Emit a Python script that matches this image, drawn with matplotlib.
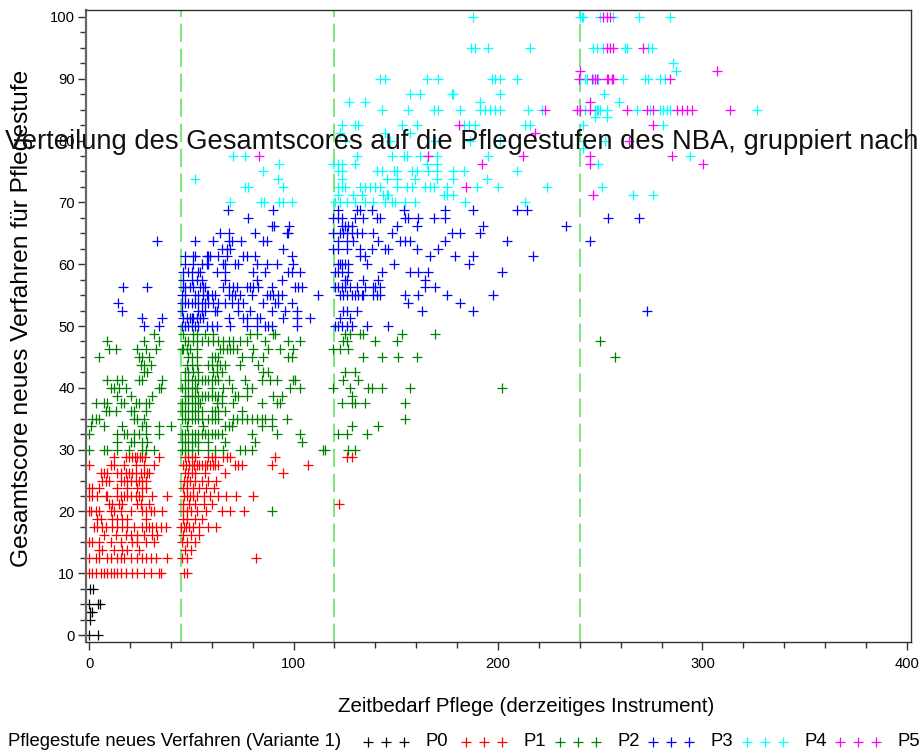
import matplotlib
matplotlib.use("Agg")
import matplotlib.pyplot as plt
from matplotlib.lines import Line2D
from matplotlib.ticker import MultipleLocator
from matplotlib import font_manager

plt.rcParams['font.family'] = ['Liberation Sans', 'DejaVu Sans']
_names = {f.name for f in font_manager.fontManager.ttflist}
if 'Liberation Sans Narrow' in _names:
    NARROW = ['Liberation Sans Narrow', 'Liberation Sans', 'DejaVu Sans']
    NSCALE = 1.0
else:
    NARROW = ['Liberation Sans', 'DejaVu Sans']
    NSCALE = 0.82

# ---------------- data: (score level, [Zeitbedarf values]) ----------------
P0_rows = [
    (7.5, [0.5, 2.0]),
    (5.0, [0.0, 4.5, 5.4]),
    (3.75, [0.5, 1.5]),
    (2.5, [0.3]),
    (0.0, [0.0, 4.2]),
]

P1_rows = [
    (28.75, [12.2, 17.9, 19.6, 21.2, 22.3, 23.6, 24.8, 26.1, 27.4, 34.2,
             47.0, 48.6, 50.3, 51.9, 58.3, 60.0, 61.6, 65.6, 67.3, 68.9, 90.9, 126.0, 128.4]),
    (27.5, [0.0, 10.6, 12.2, 17.1, 22.8, 26.9, 31.8,
            46.1, 47.5, 48.8, 50.1, 51.4, 52.7, 54.0, 55.3, 56.6, 57.9, 59.2, 60.5, 61.8, 63.1,
            71.4, 73.0, 74.6, 89.3, 107.2]),
    (26.25, [5.7, 7.3, 9.0, 13.9, 15.5, 17.9, 19.6, 21.2, 22.8, 25.3, 26.9, 28.5, 29.3,
             46.9, 48.6, 50.2, 51.8, 56.7, 66.5, 95.0]),
    (25.0, [6.5, 8.1, 9.8, 15.5, 17.1, 18.7, 20.4, 22.8, 24.4, 26.1, 27.7,
            46.5, 47.8, 49.4, 52.0, 55.0, 58.0, 62.0]),
    (23.75, [0.0, 1.6, 4.9, 13.9, 18.7, 23.6, 26.1, 27.7, 46.0, 48.0, 51.0, 54.0, 57.0, 61.0]),
    (22.5, [0.0, 1.6, 4.1, 8.1, 9.0, 13.9, 15.5, 17.1, 18.7, 20.4, 22.8, 24.4, 26.1, 30.9, 38.3,
            46.5, 48.0, 49.5, 51.0, 53.0, 56.0, 59.0, 63.0, 67.0, 72.0, 80.0]),
    (21.25, [9.8, 11.4, 14.7, 16.3, 23.6, 25.3, 29.3, 46.0, 49.0, 52.0, 56.0, 60.0, 122.0]),
    (20.0, [0.0, 0.8, 3.3, 4.9, 10.6, 12.2, 15.5, 20.4, 26.1, 27.7, 30.1, 31.8, 35.9,
            46.0, 48.0, 49.7, 53.0, 57.0, 65.0, 69.0, 76.0]),
    (18.75, [4.1, 5.7, 11.4, 13.9, 16.3, 18.7, 27.7, 46.0, 48.0, 52.0, 55.0]),
    (17.5, [2.4, 4.1, 6.5, 8.1, 11.4, 13.9, 16.3, 18.7, 22.0, 26.1, 27.7, 29.3, 30.9, 32.6, 35.0,
            37.5, 44.8, 46.5, 47.5, 49.0, 51.0, 54.0, 58.0, 62.0]),
    (16.25, [7.3, 13.0, 17.9, 20.4, 23.6, 26.9, 30.9, 33.4, 46.0, 50.0, 54.0]),
    (15.0, [0.0, 1.6, 4.9, 10.6, 15.5, 21.2, 23.6, 27.7, 31.8, 45.6, 48.0, 52.0]),
    (13.75, [4.9, 6.5, 12.2, 16.3, 18.7, 24.4, 47.0, 50.0]),
    (12.5, [0.0, 3.3, 4.9, 9.0, 10.6, 13.9, 15.5, 17.1, 20.4, 23.6, 26.1, 27.7, 30.1, 32.6, 38.3,
            45.6, 48.0, 81.5]),
    (10.0, [0.0, 1.6, 3.3, 5.7, 7.3, 9.0, 10.6, 12.2, 13.9, 15.5, 17.9, 21.2, 23.6, 26.9, 30.1,
            34.2, 35.0, 46.5, 48.1]),
]

P2_rows = [
    (48.75, [31.8, 46.1, 51.0, 52.6, 56.7, 60.8, 78.7, 82.0, 90.1, 90.9,
             125.2, 127.6, 132.5, 134.2, 152.9, 169.3]),
    (47.5, [9.0, 26.9, 34.2, 46.9, 48.6, 51.0, 52.6, 55.1, 58.4, 60.8, 63.2, 65.7, 68.2, 70.6,
            73.8, 77.1, 86.1, 97.5, 103.2, 124.4, 126.0, 139.9, 150.5, 249.9]),
    (46.25, [9.8, 13.0, 23.6, 27.7, 32.6, 45.3, 46.1, 47.8, 49.4, 52.6, 64.1, 65.7, 67.4, 69.0,
             70.6, 72.2, 80.4, 87.7, 93.4, 99.9, 119.5, 122.7, 126.8]),
    (45.0, [4.9, 24.4, 26.1, 29.3, 48.6, 50.2, 52.6, 60.0, 61.6, 63.2, 74.6, 79.6, 85.2, 97.5,
            99.1, 134.2, 143.1, 151.3, 160.3, 257.2]),
    (43.75, [25.3, 26.9, 30.1, 47.8, 50.2, 52.6, 58.4, 60.0, 62.4, 64.1, 66.5, 73.8, 82.8]),
    (42.5, [26.9, 28.5, 46.9, 48.6, 51.0, 53.5, 60.8, 62.4, 64.9, 85.2, 87.7, 125.2, 130.1]),
    (41.25, [9.0, 13.9, 16.3, 24.4, 26.1, 35.9, 46.9, 48.6, 50.2, 51.8, 53.5, 55.1, 56.7, 58.4,
             60.0, 61.6, 63.2, 68.2, 76.3, 84.4, 88.5, 91.8, 99.9, 100.7, 124.4, 131.7]),
    (40.0, [10.6, 12.2, 14.7, 17.9, 34.2, 35.0, 45.3, 46.9, 48.6, 50.2, 51.8, 52.6, 60.0, 65.7,
            69.8, 77.1, 79.6, 98.3, 103.2, 119.5, 127.6, 136.6, 138.3, 143.1, 157.0, 201.8]),
    (38.75, [13.9, 20.4, 30.9, 46.9, 48.6, 50.2, 51.8, 53.5, 55.1, 56.7, 58.4, 60.0, 61.6, 63.2,
             64.9, 71.4, 73.0, 77.1, 90.1, 94.2, 128.4]),
    (37.5, [3.3, 7.3, 9.0, 15.5, 17.1, 22.8, 24.4, 27.7, 29.3, 45.3, 46.9, 48.6, 50.2, 51.8, 53.5,
            54.3, 62.4, 64.9, 70.6, 84.4, 91.8, 93.4, 123.6, 128.4, 130.1, 135.0, 154.6]),
    (36.25, [8.1, 9.8, 13.0, 20.4, 22.0, 27.7, 45.3, 46.9, 48.6, 50.2, 51.8, 53.5, 55.1, 60.0,
             61.6, 63.2, 66.5, 74.6]),
    (35.0, [1.6, 3.3, 4.9, 22.0, 23.6, 26.9, 45.3, 46.9, 48.6, 50.2, 51.8, 53.5, 55.1, 58.4,
            60.0, 61.6, 63.2, 70.6, 72.2, 74.6, 77.1, 79.6, 82.0, 84.4, 86.1, 89.3, 96.7, 154.6]),
    (33.75, [0.8, 7.3, 16.3, 26.1, 27.7, 34.2, 39.9, 47.8, 55.9, 66.5, 68.2, 69.8, 84.4, 89.3,
             128.4, 141.5]),
    (32.5, [0.0, 13.9, 17.1, 18.7, 22.0, 24.4, 27.7, 34.2, 45.3, 46.9, 48.6, 50.2, 51.8, 53.5,
            55.1, 56.7, 58.4, 60.0, 61.6, 63.2, 64.9, 79.6, 91.8, 103.2, 121.9, 126.0, 135.8]),
    (31.25, [13.9, 20.4, 22.0, 26.1, 28.5, 45.3, 46.9, 48.6, 50.2, 51.8, 53.5, 58.4, 66.5, 81.2,
             104.0]),
    (30.0, [0.0, 7.3, 9.0, 13.9, 19.6, 26.1, 27.7, 31.8, 45.3, 46.9, 48.6, 50.2, 53.5, 58.4,
            61.6, 65.7, 73.8, 76.3, 79.6, 114.6, 115.4, 126.8, 130.1]),
    (20.0, [89.5]),
]

P3_rows = [
    (68.75, [67.8, 89.8, 121.9, 130.9, 132.5, 138.3, 153.8, 174.2, 188.0, 209.2, 214.1]),
    (67.5, [77.9, 119.5, 121.9, 123.6, 130.1, 134.2, 140.7, 142.3, 154.6, 156.2, 161.1, 168.5,
            174.2, 253.7, 269.0]),
    (66.25, [89.3, 90.6, 97.9, 123.6, 125.2, 126.8, 128.4, 150.5, 160.3, 192.9, 233.3]),
    (65.0, [64.1, 68.2, 81.2, 96.7, 97.5, 119.5, 122.7, 124.4, 126.0, 128.4, 130.9, 133.3,
            139.1, 148.0, 177.4, 181.5, 191.3]),
    (63.75, [33.0, 51.8, 60.4, 68.2, 69.8, 74.3, 85.2, 86.9, 121.9, 126.0, 129.3, 141.5, 152.1,
             154.6, 157.0, 174.2, 204.3, 244.9]),
    (62.5, [64.9, 67.4, 69.0, 95.0, 119.5, 121.9, 126.0, 132.5, 138.3, 144.8, 146.4, 160.3,
            170.9]),
    (61.25, [46.9, 51.0, 51.8, 57.6, 58.4, 59.2, 62.9, 67.4, 75.5, 77.1, 81.2, 99.1, 132.5,
             135.0, 166.8, 179.0, 188.0, 217.3]),
    (60.0, [46.9, 51.0, 55.1, 57.6, 58.4, 65.7, 66.5, 71.4, 73.0, 82.0, 86.9, 91.8, 99.9,
            121.9, 122.7, 123.6, 125.2, 126.8, 135.8, 148.9, 185.6]),
    (58.75, [46.1, 48.6, 50.2, 53.5, 54.3, 62.4, 66.5, 80.4, 86.1, 97.5, 99.1, 103.2, 120.3,
             121.9, 123.6, 126.8, 143.1, 157.0, 161.1, 166.0, 201.8]),
    (57.5, [46.1, 50.2, 52.6, 55.1, 66.5, 82.0, 94.2, 125.2, 126.0, 134.2, 141.5, 164.3]),
    (56.25, [16.6, 28.4, 46.1, 46.9, 49.4, 51.0, 54.3, 55.9, 56.7, 65.7, 68.2, 70.6, 72.2, 77.1,
             78.7, 80.4, 82.8, 89.3, 100.7, 102.4, 104.0, 120.3, 121.9, 123.6, 125.2, 127.6,
             130.9, 135.0, 139.1, 139.9, 142.3, 164.3, 169.3]),
    (55.0, [45.3, 46.9, 51.8, 53.5, 55.9, 57.6, 58.4, 60.0, 61.6, 68.2, 69.8, 71.4, 73.8, 79.6,
            86.9, 88.5, 90.1, 92.6, 94.2, 112.1, 122.7, 124.4, 126.0, 128.4, 130.1, 131.7,
            133.3, 134.2, 139.1, 140.7, 142.3, 154.6, 161.1, 175.0, 197.8]),
    (53.75, [14.0, 45.3, 46.9, 48.6, 50.2, 51.8, 53.5, 55.1, 56.7, 58.4, 60.8, 63.2, 66.5, 69.8,
             73.0, 75.5, 85.2, 90.9, 92.6, 99.1, 156.2, 181.5]),
    (52.5, [16.3, 45.3, 53.5, 55.1, 56.7, 61.6, 62.4, 73.0, 78.7, 89.3, 95.8, 101.5, 124.4,
            126.0, 130.9, 162.7, 188.0, 273.1]),
    (51.25, [26.1, 35.9, 46.1, 47.8, 49.4, 50.2, 51.0, 52.6, 54.3, 55.9, 68.2, 75.5, 77.1, 82.0,
             83.6, 95.0, 101.5, 108.1, 122.7, 127.6]),
    (50.0, [26.9, 34.2, 45.3, 46.9, 48.6, 50.2, 51.8, 53.5, 57.6, 60.0, 62.4, 69.0, 77.1, 82.0,
            86.1, 87.7, 89.3, 101.5, 120.3, 121.9, 123.6, 126.0, 128.4, 135.8, 146.4]),
]

P4_rows = [
    (100.0, [187.7, 240.2, 241.0, 241.8, 249.9, 256.4, 268.9, 284.1]),
    (95.0, [187.0, 189.0, 195.0, 215.6, 246.6, 248.3, 251.5, 262.1, 262.9, 273.5, 275.1]),
    (92.5, [285.4]),
    (91.25, [287.0]),
    (90.0, [142.3, 144.8, 165.2, 170.9, 196.9, 198.6, 201.0, 209.2, 240.2, 242.6, 243.4, 246.6,
            249.1, 261.3, 272.0, 273.5, 279.2, 281.7]),
    (87.5, [157.0, 161.9, 177.4, 178.2, 201.0, 251.9]),
    (86.25, [127.3, 135.0, 191.3, 259.2]),
    (85.0, [143.1, 156.2, 168.5, 170.9, 181.5, 191.3, 193.7, 196.1, 198.6, 201.0, 214.9, 221.4,
            242.6, 247.4, 248.3, 249.1, 249.9, 253.2, 267.8, 274.3, 279.2, 280.9, 282.5, 284.1,
            326.5]),
    (83.75, [247.4, 253.2]),
    (82.5, [123.6, 130.1, 131.7, 152.9, 160.3, 183.2, 185.6, 188.8, 213.2, 215.7, 241.8, 280.9]),
    (81.25, [122.7, 144.8, 157.0]),
    (80.0, [125.2, 147.2, 169.3, 186.4, 201.0, 242.6, 252.3]),
    (78.75, [241.8]),
    (77.5, [70.6, 76.3, 130.9, 148.0, 153.8, 155.4, 161.9, 166.0, 170.1, 195.3, 293.9]),
    (76.25, [92.9, 119.5, 121.9, 123.6, 130.1, 165.2, 170.1, 249.1]),
    (75.0, [85.2, 121.9, 123.6, 140.7, 143.1, 148.9, 150.5, 157.8, 160.3, 166.0, 170.1, 178.2,
            183.2, 209.2]),
    (73.75, [51.8, 92.3, 123.6, 145.6, 150.5, 159.4, 170.1, 178.2, 194.5]),
    (72.5, [76.3, 77.9, 95.0, 121.9, 123.6, 125.2, 132.5, 135.0, 137.5, 139.9, 142.3, 150.5,
            155.4, 157.8, 164.3, 166.8, 168.5, 175.0, 189.6, 200.2, 223.9, 250.7]),
    (71.25, [121.9, 129.3, 133.3, 144.0, 145.6, 146.4, 173.4, 175.0, 178.2, 266.2, 276.0]),
    (70.0, [69.0, 84.2, 85.8, 92.9, 95.0, 99.1, 120.3, 122.7, 126.0, 130.1, 135.0, 139.1, 144.8,
            148.0, 149.7, 154.6, 159.4, 184.0, 213.2]),
]

P5_rows = [
    (100.0, [251.5, 253.2, 254.8]),
    (95.0, [253.2, 254.8, 256.4, 271.1]),
    (91.25, [240.2, 306.9]),
    (90.0, [239.4, 245.8, 247.4, 248.3, 253.2, 254.0, 255.6, 256.4, 284.1]),
    (86.25, [245.0]),
    (85.0, [223.0, 238.5, 240.2, 245.0, 262.9, 272.7, 276.0, 287.4, 289.8, 292.3, 294.7, 313.5]),
    (82.5, [181.1, 276.0]),
    (81.25, [218.1]),
    (80.0, [264.2]),
    (77.5, [83.0, 166.0, 212.1, 245.0, 284.9]),
    (76.25, [192.0, 245.0, 300.4]),
    (72.5, [184.2]),
    (71.25, [246.6]),
]

groups = ["P0", "P1", "P2", "P3", "P4", "P5"]
group_rows = [P0_rows, P1_rows, P2_rows, P3_rows, P4_rows, P5_rows]
colors = ["#000000", "#ff0000", "#008000", "#0000ff", "#00ffff", "#ff00ff"]
ref_lines = [45, 120, 240]

title_text = "Verteilung des Gesamtscores auf die Pflegestufen des NBA, gruppiert nach"
xlabel_text = "Zeitbedarf Pflege (derzeitiges Instrument)"
ylabel_text = "Gesamtscore neues Verfahren für Pflegestufe"
legend_title = "Pflegestufe neues Verfahren (Variante 1)"

# ---------------- figure ----------------
W, H = 922, 756
fig = plt.figure(figsize=(W / 100, H / 100), dpi=100)
ax = fig.add_axes([86 / W, 1 - 642 / H, (911 - 86) / W, (642 - 10) / H])

for rows, col in zip(group_rows, colors):
    xs, ys = [], []
    for y, xl in rows:
        for x in xl:
            xs.append(x)
            ys.append(y)
    ax.plot(xs, ys, ls="none", marker="+", ms=6.5, mew=0.9, color=col)

for xv in ref_lines:
    ax.axvline(xv, color="#66e066", lw=1.2, dashes=(11, 4), zorder=0)

ax.set_xlim(-1.5, 402)
ax.set_ylim(-1.13, 101.13)
ax.xaxis.set_major_locator(MultipleLocator(100))
ax.xaxis.set_minor_locator(MultipleLocator(20))
ax.yaxis.set_major_locator(MultipleLocator(10))
ax.yaxis.set_minor_locator(MultipleLocator(2.5))
ax.tick_params(axis="both", which="major", length=6, width=1, color="#333333",
               labelsize=13 * NSCALE, pad=2)
ax.tick_params(axis="x", which="major", pad=5)
ax.tick_params(axis="both", which="minor", length=4, width=1, color="#333333")
for lab in ax.get_xticklabels() + ax.get_yticklabels():
    lab.set_family(NARROW)
for s in ax.spines.values():
    s.set_color("#333333")
    s.set_linewidth(1)
ax.spines["left"].set_linewidth(1.6)
ax.spines["left"].set_color("#666666")

ax.set_xlabel(xlabel_text, fontsize=18 * NSCALE, va="center", family=NARROW)
ax.xaxis.set_label_coords((526 - 86) / 825, (642 - 707) / 632)
ax.set_ylabel(ylabel_text, fontsize=21.5 * NSCALE, va="center", family=NARROW)
ax.yaxis.set_label_coords((22 - 86) / 825, (642 - 318) / 632)

fig.text(462 / W, 1 - 142 / H, title_text, fontsize=19.7, ha="center", va="center",
         color="#111111", zorder=10)

# legend row
ly = 1 - 742 / H
fig.text(8 / W, ly, legend_title, fontsize=16.3 * NSCALE, ha="left", va="center",
         family=NARROW)
starts = [368, 466, 560, 653, 747, 840]
for g, col, sx in zip(groups, colors, starts):
    fig.add_artist(Line2D([(sx) / W, (sx + 18) / W, (sx + 36) / W], [ly, ly, ly],
                          transform=fig.transFigure, ls="none", marker="+", ms=6.5,
                          mew=0.9, color=col))
    fig.text((sx + 57) / W, ly, g, fontsize=16.3 * NSCALE, ha="left", va="center",
             family=NARROW)

fig.savefig("out.png", dpi=100)
